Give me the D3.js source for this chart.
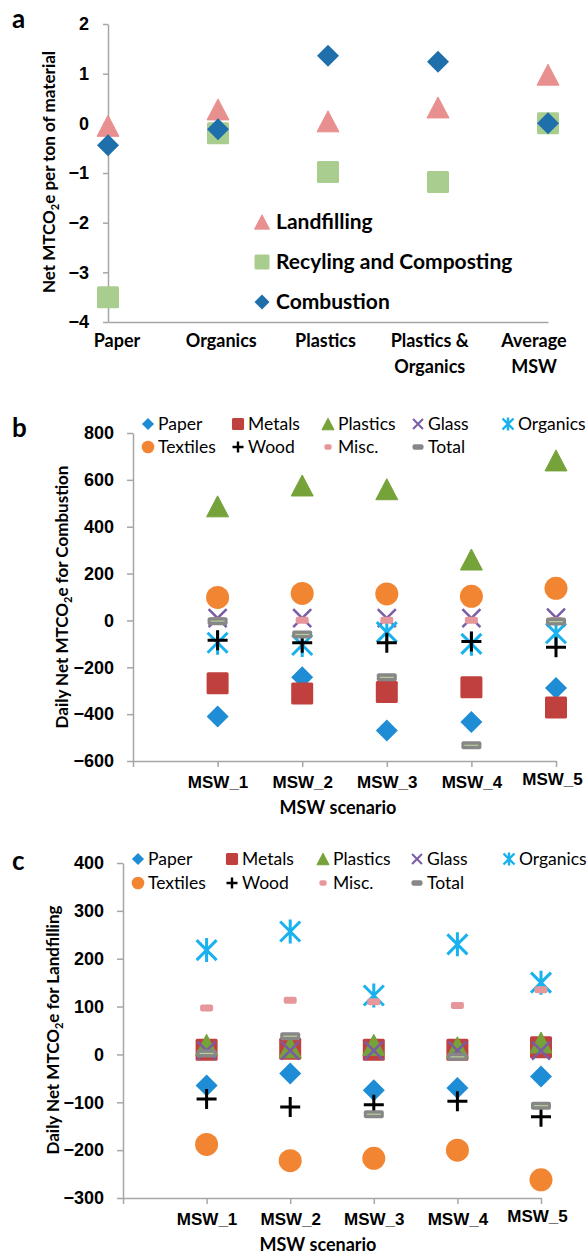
<!DOCTYPE html>
<html>
<head>
<meta charset="utf-8">
<script src="https://cdn.jsdelivr.net/npm/d3@7"></script>
<style>
  body { margin: 0; background: #fff; }
  svg { display: block; font-family: Lato, "Open Sans", sans-serif; }
  .axis path, .axis line { stroke: #a6a6a6; stroke-width: 1.5; }
  .axis text { font-size: 18px; font-weight: bold; fill: #000; }
  .xcat text { font-size: 17px; }
</style>
</head>
<body>
<svg id="chart" width="587" height="1255"></svg>
<script>
// ---- panel a data
const aCategories = ["Paper", "Organics", "Plastics", "Plastics & Organics", "Average MSW"];
const aLabelLines = [["Paper"], ["Organics"], ["Plastics"], ["Plastics &", "Organics"], ["Average", "MSW"]];
const aLandfilling = [-0.05, 0.28, 0.04, 0.32, 0.98];
const aRecycling = [-3.5, -0.2, -0.98, -1.18, 0.0];
const aCombustion = [-0.44, -0.12, 1.36, 1.24, 0.0];
const aTicks = [-4, -3, -2, -1, 0, 1, 2];

// ---- panels b and c data
const scenarios = ["MSW_1", "MSW_2", "MSW_3", "MSW_4", "MSW_5"];
const materials = ["Paper", "Metals", "Plastics", "Glass", "Organics", "Textiles", "Wood", "Misc.", "Total"];

const bPaper    = [-410, -243, -470, -434, -288];
const bMetals   = [-268, -312, -305, -285, -372];
const bPlastics = [487, 576, 560, 260, 683];
const bGlass    = [10, 10, 10, 10, 12];
const bOrganics = [-95, -105, -50, -100, -55];
const bTextiles = [98, 115, 113, 103, 137];
const bWood     = [-85, -95, -95, -90, -115];
const bMisc     = [0, 1, 1, 1, 0];
const bTotal    = [-3, -60, -243, -533, -5];
const bTicks = [-600, -400, -200, 0, 200, 400, 600, 800];

const cPaper    = [-65, -40, -75, -70, -46];
const cMetals   = [10, 12, 10, 10, 15];
const cPlastics = [20, 15, 20, 15, 25];
const cGlass    = [8, 8, 8, 8, 8];
const cOrganics = [218, 257, 123, 230, 150];
const cTextiles = [-188, -222, -217, -200, -262];
const cWood     = [-93, -110, -105, -98, -130];
const cMisc     = [97, 113, 110, 102, 135];
const cTotal    = [2, 38, -125, -5, -107];
const cTicks = [-300, -200, -100, 0, 100, 200, 300, 400];

const svg = d3.select("#chart");

// marker drawing, k scales the size (legend uses smaller ones)
function drawMarker(g, shape, color, k) {
  k = k || 1;
  if (shape === "diamond") {
    const r = 11 * k;
    g.append("path").attr("d", `M0,${-r}L${r},0L0,${r}L${-r},0Z`).attr("fill", color);
  } else if (shape === "square") {
    const s = 22 * k;
    g.append("rect").attr("x", -s / 2).attr("y", -s / 2).attr("width", s).attr("height", s)
      .attr("rx", 1.5).attr("fill", color);
  } else if (shape === "triangle") {
    const w = 22 * k, h = 21 * k;
    g.append("path").attr("d", `M0,${-h / 2}L${w / 2},${h / 2}L${-w / 2},${h / 2}Z`)
      .attr("fill", color).attr("stroke", color).attr("stroke-linejoin", "round");
  } else if (shape === "circle") {
    g.append("circle").attr("r", 11.5 * k).attr("fill", color);
  } else if (shape === "x") {
    const r = 9 * k;
    g.append("path").attr("d", `M${-r},${-r}L${r},${r}M${-r},${r}L${r},${-r}`)
      .attr("stroke", color).attr("stroke-width", 2.5 * Math.max(k, 0.8));
  } else if (shape === "asterisk") {
    const r = 10 * k, v = 12 * k;
    g.append("path").attr("d", `M${-r},${-r}L${r},${r}M${-r},${r}L${r},${-r}M0,${-v}L0,${v}`)
      .attr("stroke", color).attr("stroke-width", 3 * Math.max(k, 0.8));
  } else if (shape === "plus") {
    const r = 10 * k;
    g.append("path").attr("d", `M${-r},0L${r},0M0,${-r}L0,${r}`)
      .attr("stroke", color).attr("stroke-width", 3 * Math.max(k, 0.8));
  } else if (shape === "dash") {
    const w = 13 * k, h = 7 * Math.max(k, 0.8);
    g.append("rect").attr("x", -w / 2).attr("y", -h / 2).attr("width", w).attr("height", h)
      .attr("rx", 2).attr("fill", color);
  } else if (shape === "total") {
    const w = 20 * k, h = 8 * Math.max(k, 0.7);
    g.append("rect").attr("x", -w / 2).attr("y", -h / 2).attr("width", w).attr("height", h)
      .attr("rx", 2).attr("fill", color);
    if (k === 1) {
      g.append("line").attr("x1", -w / 2 + 3).attr("x2", w / 2 - 3)
        .attr("stroke", "#b8cf98").attr("stroke-width", 1.2);
    }
  }
}

const matStyle = {
  "Paper":    { shape: "diamond",  color: "#1f8dd6" },
  "Metals":   { shape: "square",   color: "#c0403d" },
  "Plastics": { shape: "triangle", color: "#76a23a" },
  "Glass":    { shape: "x",        color: "#7a5ca6" },
  "Organics": { shape: "asterisk", color: "#19b1ee" },
  "Textiles": { shape: "circle",   color: "#f28531" },
  "Wood":     { shape: "plus",     color: "#000000" },
  "Misc.":    { shape: "dash",     color: "#e6979a" },
  "Total":    { shape: "total",    color: "#878787" }
};

function yTitle(x, y, before, after, size) {
  const t = svg.append("text")
    .attr("transform", `translate(${x},${y}) rotate(-90)`)
    .attr("text-anchor", "middle")
    .attr("font-size", size).attr("font-weight", "bold");
  t.append("tspan").text(before);
  t.append("tspan").attr("font-size", size * 0.65).attr("dy", 4).text("2");
  t.append("tspan").attr("dy", -4).text(after);
}

function panelLetter(txt, y) {
  svg.append("text").attr("x", 12).attr("y", y)
    .attr("font-size", 26).attr("font-weight", "bold").text(txt);
}

// ================= panel a
{
  const x = d3.scalePoint().domain(aCategories).range([108, 548]);
  const xLab = d3.scalePoint().domain(aCategories).range([117, 534]);
  const y = d3.scaleLinear().domain([-4, 2]).range([322, 24]);

  svg.append("g").attr("class", "axis")
    .attr("transform", `translate(${x.range()[0]},0)`)
    .call(d3.axisLeft(y).tickValues(aTicks).tickFormat(d3.format("d"))
      .tickSize(5).tickSizeOuter(0).tickPadding(14));
  svg.append("g").attr("class", "axis")
    .attr("transform", `translate(0,${y(-4)})`)
    .call(d3.axisBottom(x).tickSize(0).tickFormat(""));

  const labs = svg.append("g").selectAll("text").data(aCategories).join("text")
    .attr("x", d => xLab(d)).attr("y", y(-4) + 25)
    .attr("text-anchor", "middle").attr("font-size", 18).attr("font-weight", "bold");
  labs.each(function (d, i) {
    aLabelLines[i].forEach((ln, j) => {
      d3.select(this).append("tspan").attr("x", xLab(d)).attr("dy", j ? 26 : 0).text(ln);
    });
  });

  const seriesA = [
    { name: "Landfilling", values: aLandfilling, shape: "triangle", color: "#e8908f" },
    { name: "Recyling and Composting", values: aRecycling, shape: "square", color: "#a9cd8e" },
    { name: "Combustion", values: aCombustion, shape: "diamond", color: "#1f6fab" }
  ];
  seriesA.forEach(s => {
    s.values.forEach((v, i) => {
      const g = svg.append("g").attr("transform", `translate(${x(aCategories[i])},${y(v)})`);
      drawMarker(g, s.shape, s.color, 1);
    });
  });

  const leg = svg.append("g").attr("transform", "translate(262,222)");
  seriesA.forEach((s, i) => {
    const g = leg.append("g").attr("transform", `translate(0,${i * 40})`);
    drawMarker(g, s.shape, s.color, 0.68);
    g.append("text").attr("x", 14).attr("y", 7).attr("font-size", 21).attr("font-weight", "bold").text(s.name);
  });

  yTitle(55, 172, "Net MTCO", "e per ton of material", 17);
  panelLetter("a", 28);
}

// ================= panels b and c
function scenarioPanel(opt) {
  const x = d3.scaleLinear().domain([0, 5]).range(opt.xRange);
  const y = d3.scaleLinear().domain(opt.yDomain).range(opt.yRange);

  svg.append("g").attr("class", "axis")
    .attr("transform", `translate(${opt.xRange[0]},0)`)
    .call(d3.axisLeft(y).tickValues(opt.ticks).tickSize(6).tickSizeOuter(0).tickPadding(13));
  const xg = svg.append("g").attr("class", "axis xcat")
    .attr("transform", `translate(0,${opt.yRange[0]})`)
    .call(d3.axisBottom(x).tickValues([0, 1, 2, 3, 4, 5]).tickSize(6).tickSizeOuter(0).tickPadding(9)
      .tickFormat(i => i ? scenarios[i - 1] : ""));
  // last label sits a bit left and higher, as in the original
  xg.selectAll(".tick text").filter(d => d === 5).attr("dx", -4).attr("dy", "0.55em");

  svg.append("text").attr("x", opt.titleX).attr("y", opt.yRange[0] + 53)
    .attr("text-anchor", "middle").attr("font-size", 18).attr("font-weight", "bold").text("MSW scenario");

  materials.forEach((m, j) => {
    const st = matStyle[m];
    opt.series[j].forEach((v, i) => {
      const g = svg.append("g").attr("transform", `translate(${x(i + 1)},${y(v)})`);
      drawMarker(g, st.shape, st.color, 1);
    });
  });

  // legend: 2 rows, 5 columns
  materials.forEach((m, j) => {
    const col = j % 5, row = Math.floor(j / 5);
    const st = matStyle[m];
    const g = svg.append("g")
      .attr("transform", `translate(${opt.legendCols[col]},${opt.legendRows[row]})`);
    drawMarker(g, st.shape, st.color, 0.55);
    g.append("text").attr("x", 10).attr("y", 6).attr("font-size", 17.5).text(m);
  });

  yTitle(opt.yTitleX, opt.yTitleY, "Daily Net MTCO", "e for " + opt.process, 17);
  panelLetter(opt.letter, opt.letterY);
}

scenarioPanel({
  letter: "b", letterY: 437, process: "Combustion",
  xRange: [133, 556], yDomain: [-600, 800], yRange: [761, 433], ticks: bTicks,
  series: [bPaper, bMetals, bPlastics, bGlass, bOrganics, bTextiles, bWood, bMisc, bTotal],
  legendCols: [148, 238, 328, 418, 508], legendRows: [424, 447],
  titleX: 338, yTitleX: 68, yTitleY: 597
});

scenarioPanel({
  letter: "c", letterY: 870, process: "Landfilling",
  xRange: [123, 541], yDomain: [-300, 400], yRange: [1198, 863], ticks: cTicks,
  series: [cPaper, cMetals, cPlastics, cGlass, cOrganics, cTextiles, cWood, cMisc, cTotal],
  legendCols: [138, 232, 323, 417, 509], legendRows: [859, 883],
  titleX: 318, yTitleX: 59, yTitleY: 1030
});
</script>
</body>
</html>
